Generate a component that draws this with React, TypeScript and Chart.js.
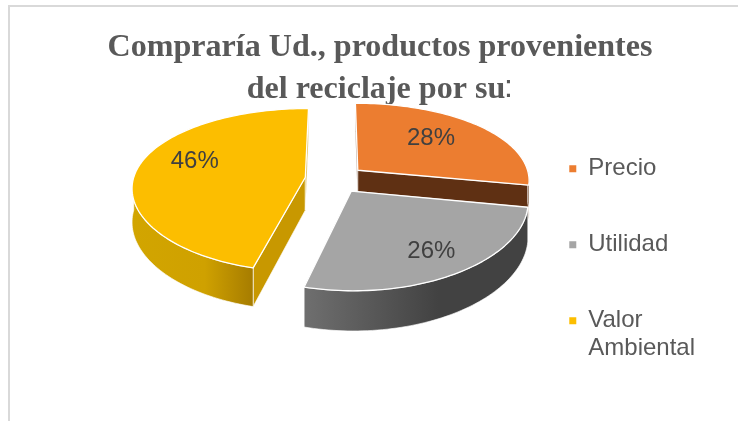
import React, { useEffect, useRef } from "react";
import { Chart, registerables, PieController, ArcElement } from "chart.js";

Chart.register(...registerables);

const categories: any[] = ["Precio", "Utilidad", ["Valor", "Ambiental"]];
const shares = [28, 26, 46];
const topColors = ["#EC7D30", "#A5A5A5", "#FCBE00"];
const cutColors = ["#5F3013", "#474747", "#C89800"];
const wallStops = [
  ["#5F3013", "#5F3013", "#5F3013"],
  ["#6F6F6F", "#424242", "#424242"],
  ["#D2A500", "#CFA100", "#A67C00"],
];
const titleLines = ["Compraría Ud., productos provenientes", "del reciclaje por su\u00a0"];

const CANVAS_LEFT = 22;
const CX = 335 - CANVAS_LEFT;
const CY = 179;
const R = 172;
const K = 80;
const P = 0.156;
const PX = 0.12;
const DEPTH = 33;
const labelRadius = [0.55, 0.85, 0.64];
const labelShift = [[5, -6], [-9, -8], [-3, -10]];

function project(u: number, v: number, z = 0): [number, number] {
  const n = v / R;
  const s = 1 / (1 - P * n);
  const sx = 1 / (1 - PX * n);
  return [CX + u * sx, CY + K * n * s + z * s];
}

function trace(ctx: CanvasRenderingContext2D, pts: [number, number][]) {
  ctx.beginPath();
  pts.forEach((p, i) => (i ? ctx.lineTo(p[0], p[1]) : ctx.moveTo(p[0], p[1])));
  ctx.closePath();
}

class Arc3D extends (ArcElement as any) {
  static id = "arc3d";
  draw(ctx: CanvasRenderingContext2D) {
    const { startAngle: a0, endAngle: a1, options } = this as any;
    const idx: number = (this as any).$index;
    const mid = (a0 + a1) / 2;
    const ox = Math.cos(mid) * options.offset;
    const oy = Math.sin(mid) * options.offset;
    const pt = (a: number, z = 0) => project(ox + Math.cos(a) * R, oy + Math.sin(a) * R, z);
    const apex = (z = 0) => project(ox, oy, z);
    const sweep = (from: number, to: number, z = 0) => {
      const out: [number, number][] = [];
      const steps = Math.max(2, Math.ceil((to - from) * 40));
      for (let i = 0; i <= steps; i++) out.push(pt(from + ((to - from) * i) / steps, z));
      return out;
    };
    ctx.save();
    ctx.lineJoin = "round";
    // cut faces
    for (const a of [a0, a1]) {
      trace(ctx, [apex(), pt(a), pt(a, DEPTH), apex(DEPTH)]);
      ctx.fillStyle = cutColors[idx];
      ctx.fill();
      ctx.strokeStyle = "rgba(255,255,255,0.8)";
      ctx.lineWidth = 0.8;
      ctx.stroke();
    }
    // outer wall (only the part that faces the viewer)
    const lo = Math.max(a0, 0);
    const hi = Math.min(a1, Math.PI);
    if (hi > lo) {
      const upper = sweep(lo, hi);
      const lower = sweep(lo, hi, DEPTH).reverse();
      const xs = upper.map((p) => p[0]);
      const g = ctx.createLinearGradient(Math.min(...xs), 0, Math.max(...xs), 0);
      const stops = wallStops[idx];
      g.addColorStop(0, stops[0]);
      g.addColorStop(0.6, stops[1]);
      g.addColorStop(1, stops[2]);
      trace(ctx, [...upper, ...lower]);
      ctx.fillStyle = g;
      ctx.fill();
      ctx.strokeStyle = "rgba(255,255,255,0.8)";
      ctx.lineWidth = 0.8;
      ctx.stroke();
    }
    // top face
    trace(ctx, [apex(), ...sweep(a0, a1)]);
    ctx.fillStyle = options.backgroundColor;
    ctx.fill();
    ctx.strokeStyle = "#FFFFFF";
    ctx.lineWidth = 1.3;
    ctx.stroke();
    ctx.restore();
  }
}

class Pie3DController extends (PieController as any) {
  static id = "pie3d";
  static defaults = { dataElementType: "arc3d" };
  draw() {
    const ctx = this.chart.ctx;
    const els = this._cachedMeta.data.map((e: any, i: number) => {
      e.$index = i;
      return e;
    });
    const depth = (e: any) => Math.sin((e.startAngle + e.endAngle) / 2);
    [...els].sort((a: any, b: any) => depth(a) - depth(b)).forEach((e: any) => e.draw(ctx));
  }
}

Chart.register(Arc3D as any, Pie3DController as any);

const annotate = {
  id: "annotate",
  afterDatasetsDraw(chart: any) {
    const ctx = chart.ctx;
    const meta = chart.getDatasetMeta(0);
    ctx.save();
    ctx.font = '24px "Liberation Sans"';
    ctx.fillStyle = "#404040";
    ctx.textAlign = "center";
    ctx.textBaseline = "middle";
    meta.data.forEach((e: any, i: number) => {
      const mid = (e.startAngle + e.endAngle) / 2;
      const r = R * labelRadius[i] + e.options.offset;
      const [x, y] = project(Math.cos(mid) * r, Math.sin(mid) * r);
      ctx.fillText(`${shares[i]}%`, x + labelShift[i][0], y + labelShift[i][1]);
    });
    ctx.restore();
  },
  afterDraw(chart: any) {
    const ctx = chart.ctx;
    ctx.save();
    ctx.font = '32px "Liberation Sans"';
    ctx.fillStyle = "#595959";
    ctx.textAlign = "left";
    ctx.textBaseline = "alphabetic";
    ctx.fillText(":", 504 - CANVAS_LEFT, 97);
    ctx.restore();
  },
};

export default function App() {
  const ref = useRef<HTMLCanvasElement>(null);
  useEffect(() => {
    const chart = new Chart(ref.current as HTMLCanvasElement, {
      type: "pie3d" as any,
      plugins: [annotate],
      data: {
        labels: categories,
        datasets: [
          {
            data: shares,
            backgroundColor: topColors,
            borderWidth: 0,
            offset: 30,
          } as any,
        ],
      },
      options: {
        responsive: false,
        animation: false,
        layout: { padding: { right: 33, left: 33, top: 0, bottom: 5 } },
        plugins: {
          tooltip: { enabled: false },
          title: {
            display: true,
            text: titleLines,
            color: "#595959",
            font: { family: '"Liberation Serif"', size: 32.1, weight: "bold", lineHeight: 1.31 },
            padding: { top: 27, bottom: 10 },
          },
          legend: {
            position: "right",
            align: "end",
            labels: {
              boxWidth: 7,
              boxHeight: 7,
              color: "#595959",
              padding: 52,
              font: { family: '"Liberation Sans"', size: 24, lineHeight: 1.15 },
            },
          },
        },
      } as any,
    });
    return () => chart.destroy();
  }, []);
  return (
    <div style={{ position: "fixed", left: 0, top: 0, width: 738, height: 421, overflow: "hidden", background: "#fff" }}>
      <div style={{ position: "absolute", left: 8, top: 5, width: 800, height: 500, borderLeft: "2px solid #d9d9d9", borderTop: "2px solid #d9d9d9" }} />
      <canvas ref={ref} width={716} height={421} style={{ position: "absolute", left: CANVAS_LEFT, top: 0, display: "block" }} />
    </div>
  );
}
